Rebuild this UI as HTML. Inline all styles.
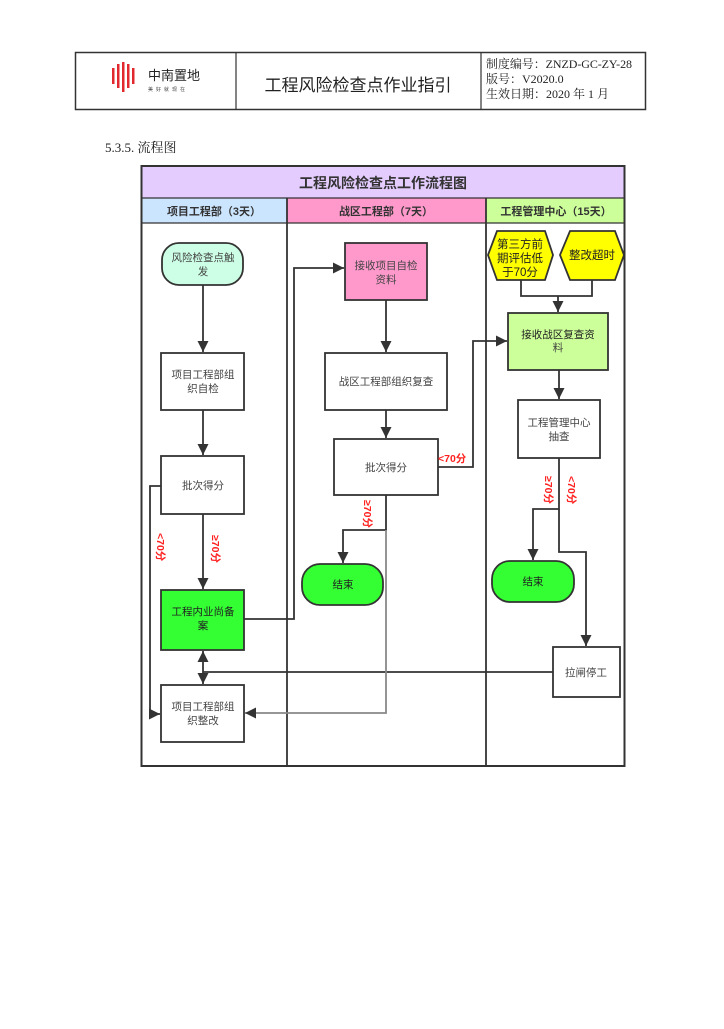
<!DOCTYPE html>
<html><head><meta charset="utf-8"><style>
html,body{margin:0;padding:0;background:#fff;}
svg text{font-family:"Liberation Sans","Noto Sans CJK SC",sans-serif;}
.s{font-family:"Liberation Serif","Noto Serif CJK SC",serif !important;}
</style></head><body>
<svg width="724" height="1024" viewBox="0 0 724 1024" xmlns="http://www.w3.org/2000/svg">
<defs>
<marker id="a" markerWidth="12" markerHeight="12" refX="11" refY="5.5" orient="auto" markerUnits="userSpaceOnUse"><path d="M0,0 L11,5.5 L0,11 z" fill="#333"/></marker>
</defs>
<!-- header -->
<rect x="75.5" y="52.5" width="570" height="57" fill="none" stroke="#333" stroke-width="1.5"/>
<line x1="236" y1="52" x2="236" y2="110" stroke="#333" stroke-width="1.2"/>
<line x1="481" y1="52" x2="481" y2="110" stroke="#333" stroke-width="1.2"/>
<g fill="#e0282e">
<rect x="112" y="68" width="2.5" height="16"/><rect x="117" y="64" width="2.5" height="24"/><rect x="122" y="62" width="2.5" height="30"/><rect x="127" y="64" width="2.5" height="24"/><rect x="132" y="68" width="2.5" height="16"/>
</g>
<text x="148" y="80" font-size="13" fill="#222">中南置地</text>
<text x="148" y="91" font-size="5" fill="#444" letter-spacing="3">美好就现在</text>
<text x="358" y="91" font-size="17" fill="#222" text-anchor="middle">工程风险检查点作业指引</text>
<text x="486" y="68" font-size="12" fill="#222" class="s" textLength="146">制度编号：ZNZD-GC-ZY-28</text>
<text x="486" y="83" font-size="12" fill="#222" class="s">版号：V2020.0</text>
<text x="486" y="98" font-size="12" fill="#222" class="s">生效日期：2020 年 1 月</text>
<text x="105" y="152" font-size="13" fill="#222" class="s">5.3.5. 流程图</text>
<!-- diagram frame -->
<rect x="141" y="166" width="484" height="32" fill="#e5ccff"/>
<rect x="141" y="198" width="146" height="25" fill="#cce5ff"/>
<rect x="287" y="198" width="199" height="25" fill="#ff99cc"/>
<rect x="486" y="198" width="139" height="25" fill="#ccff99"/>
<rect x="141.5" y="166" width="483" height="600" fill="none" stroke="#333" stroke-width="2"/>
<line x1="141" y1="198" x2="625" y2="198" stroke="#333" stroke-width="1.2"/>
<line x1="141" y1="223" x2="625" y2="223" stroke="#333" stroke-width="1.2"/>
<line x1="287" y1="198" x2="287" y2="767" stroke="#333" stroke-width="1.8"/>
<line x1="486" y1="198" x2="486" y2="767" stroke="#333" stroke-width="1.8"/>
<text x="383" y="188" font-size="14" font-weight="bold" fill="#333" text-anchor="middle">工程风险检查点工作流程图</text>
<text x="214" y="215" font-size="11" font-weight="bold" fill="#333" text-anchor="middle">项目工程部（3天）</text>
<text x="386" y="215" font-size="11" font-weight="bold" fill="#333" text-anchor="middle">战区工程部（7天）</text>
<text x="556" y="215" font-size="11" font-weight="bold" fill="#333" text-anchor="middle">工程管理中心（15天）</text>
<!-- nodes -->
<g stroke="#333" stroke-width="1.8">
<rect x="162" y="243" width="81" height="42" rx="17" fill="#ccffe5"/>
<rect x="161" y="353" width="83" height="57" fill="#fff"/>
<rect x="161" y="456" width="83" height="58" fill="#fff"/>
<rect x="161" y="590" width="83" height="60" fill="#33ff33"/>
<rect x="161" y="685" width="83" height="57" fill="#fff"/>
<rect x="345" y="243" width="82" height="57" fill="#ff99cc"/>
<rect x="325" y="353" width="122" height="57" fill="#fff"/>
<rect x="334" y="439" width="104" height="56" fill="#fff"/>
<rect x="302" y="564" width="81" height="41" rx="18" fill="#33ff33"/>
<polygon points="488,255 497,231 545,231 553,255 545,280 497,280" fill="#ffff00"/>
<polygon points="560,255 570,231 615,231 624,255 615,280 570,280" fill="#ffff00"/>
<rect x="508" y="313" width="100" height="57" fill="#ccff99"/>
<rect x="518" y="400" width="82" height="58" fill="#fff"/>
<rect x="492" y="561" width="82" height="41" rx="18" fill="#33ff33"/>
<rect x="553" y="647" width="67" height="50" fill="#fff"/>
</g>
<g font-size="10.5" fill="#444" text-anchor="middle">
<text x="203" y="261">风险检查点触</text><text x="203" y="275">发</text>
<text x="203" y="378">项目工程部组</text><text x="203" y="392">织自检</text>
<text x="203" y="489">批次得分</text>
<text x="203" y="615" fill="#222">工程内业尚备</text><text x="203" y="629" fill="#222">案</text>
<text x="203" y="710">项目工程部组</text><text x="203" y="724">织整改</text>
<text x="386" y="269">接收项目自检</text><text x="386" y="283">资料</text>
<text x="386" y="385">战区工程部组织复查</text>
<text x="386" y="471">批次得分</text>
<text x="343" y="588" fill="#222">结束</text>
<text x="558" y="338" fill="#222">接收战区复查资</text><text x="558" y="351">料</text>
<text x="559" y="426">工程管理中心</text><text x="559" y="440">抽查</text>
<text x="533" y="585" fill="#222">结束</text>
<text x="586" y="676">拉闸停工</text>
<text x="520" y="248" font-size="11.5" fill="#222">第三方前</text>
<text x="520" y="262" font-size="11.5" fill="#222">期评估低</text>
<text x="520" y="276" font-size="11.5" fill="#222">于70分</text>
<text x="592" y="259" font-size="11.5" fill="#222">整改超时</text>
</g>
<!-- connectors -->
<g stroke="#333" stroke-width="1.8" fill="none">
<path d="M203,285 V352" marker-end="url(#a)"/>
<path d="M203,410 V455" marker-end="url(#a)"/>
<path d="M203,514 V589" marker-end="url(#a)"/>
<path d="M161,486 H150 V714 H160" marker-end="url(#a)"/>
<path d="M244,619 H294 V268 H344" marker-end="url(#a)"/>
<path d="M386,300 V352" marker-end="url(#a)"/>
<path d="M386,410 V438" marker-end="url(#a)"/>
<path d="M438,467 H473 V341 H507" marker-end="url(#a)"/>
<path d="M386,495 V530 H343 V563" marker-end="url(#a)"/>
<path d="M521,280 V296 H592 V280"/>
<path d="M558,296 V312" marker-end="url(#a)"/>
<path d="M559,370 V399" marker-end="url(#a)"/>
<path d="M559,458 V509 H533 V560" marker-end="url(#a)"/>
<path d="M559,509 V552 H586 V646" marker-end="url(#a)"/>
<path d="M553,672 H203"/>
<path d="M203,672 V651" marker-end="url(#a)"/>
<path d="M203,672 V684" marker-end="url(#a)"/>
</g>
<path d="M386,530 V713 H245" stroke="#888" stroke-width="1.8" fill="none" marker-end="url(#a)"/>
<!-- labels -->
<g font-size="10.5" fill="#ff2020" font-weight="bold" class="s">
<text transform="translate(212,535) rotate(90)">≥70分</text>
<text transform="translate(157,533) rotate(90)">&lt;70分</text>
<text transform="translate(364,500) rotate(90)">≥70分</text>
<text transform="translate(545,476) rotate(90)">≥70分</text>
<text transform="translate(568,476) rotate(90)">&lt;70分</text>
<text x="438" y="462">&lt;70分</text>
</g>
</svg>
</body></html>
